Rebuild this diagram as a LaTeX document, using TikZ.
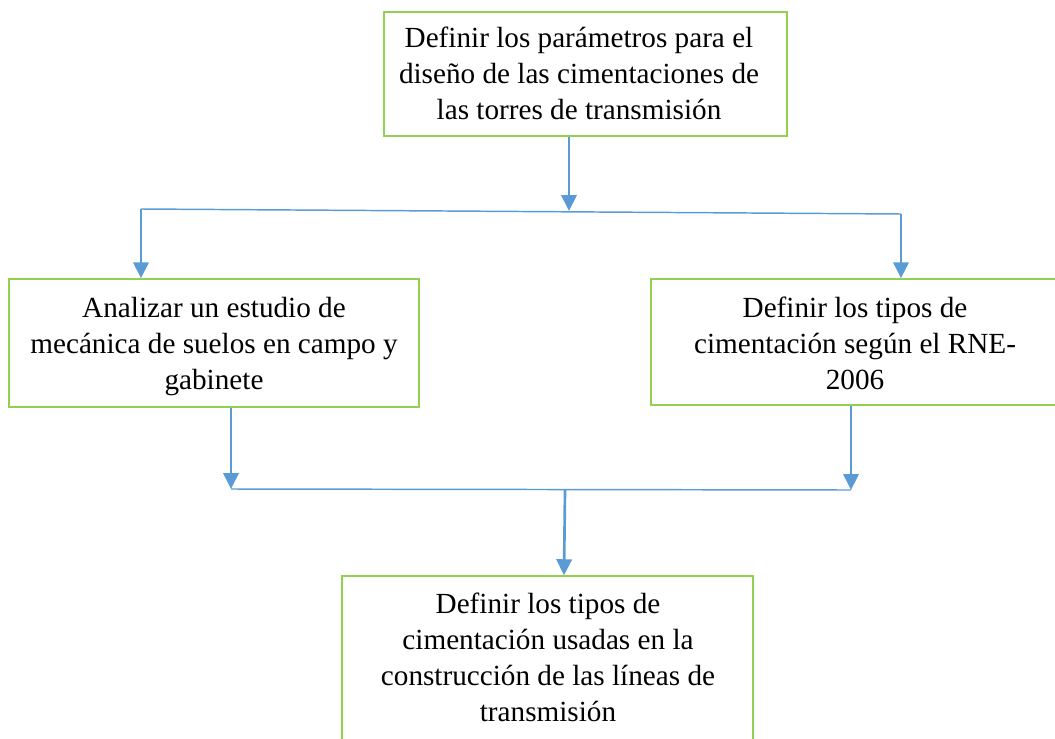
\documentclass[tikz,border=0pt]{standalone}
\usepackage{fontspec}
\setmainfont{Liberation Serif}
\usetikzlibrary{arrows.meta,calc}
\definecolor{boxgreen}{RGB}{146,208,80}
\definecolor{arrowblue}{RGB}{91,155,213}
\tikzset{
  flowbox/.style 2 args={draw=boxgreen, line width=1.1pt, fill=white, inner sep=0pt,
    minimum width=#1*0.75pt, minimum height=#2*0.75pt},
  flowtext/.style={inner sep=0pt, align=center,
    font=\fontsize{21.9}{27}\selectfont},
  vline/.style={draw=arrowblue, line width=2pt,
    -{Triangle[width=11.5pt,length=12pt]}},
  hline/.style={draw=arrowblue, line width=1.1pt}
}
\begin{document}
\begin{tikzpicture}[x=0.75pt,y=-0.75pt]
\useasboundingbox (0,0) rectangle (1055,738);
\clip (0,0) rectangle (1055,738);
% boxes
\node[flowbox={403}{124}] (top) at (585.5,74) {};
\node[flowbox={410}{128}] (left) at (214,343) {};
\node[flowbox={408}{126}] (right) at (855,342) {};
\node[flowbox={411}{164}] (bottom) at (547.5,658) {};
% texts
\node[flowtext] (toptext) at (579,73.5)
  {Definir los parámetros para el\\diseño de las cimentaciones de\\las torres de transmisión};
\node[flowtext] (lefttext) at (214,347)
  {Analizar un estudio de\\mecánica de suelos en campo y\\gabinete};
\node[flowtext] (righttext) at (855,343.5)
  {Definir los tipos de\\cimentación según el RNE-\\2006};
\node[flowtext] (bottomtext) at (548,657.3)
  {Definir los tipos de\\cimentación usadas en la\\construcción de las líneas de\\transmisión};
% coordinates
\coordinate (t1) at (569,211);
\coordinate (l1) at (141,209);
\coordinate (r1) at (901,214);
\coordinate (l2) at (231,489);
\coordinate (r2) at (851,490);
\coordinate (m2) at (565,490);
% connectors
\draw[hline] (l1) -- (r1);
\draw[vline] (top.south -| t1) -- (t1);
\draw[vline] (l1) -- (l1 |- left.north);
\draw[vline] (r1) -- (r1 |- right.north);
\draw[hline] (l2) -- (r2);
\draw[vline] (left.south -| l2) -- (l2);
\draw[vline] (right.south -| r2) -- (r2);
\draw[vline] (m2) -- ($(bottom.north)+(16.5,0)$);
\end{tikzpicture}
\end{document}
